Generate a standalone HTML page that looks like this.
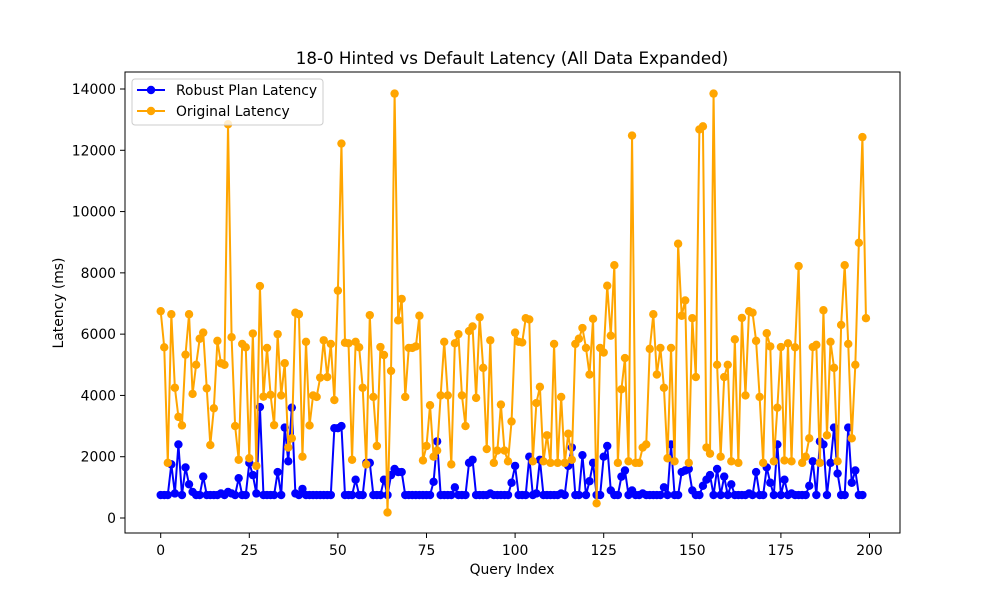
<!DOCTYPE html>
<html><head><meta charset="utf-8"><style>
body{margin:0;background:#fff}
svg{display:block;font-family:"DejaVu Sans","Liberation Sans",sans-serif}
</style></head><body>
<svg id="chart" width="1000" height="600" viewBox="0 0 1000 600" xmlns="http://www.w3.org/2000/svg">
<rect width="1000" height="600" fill="#fff"/>
<text x="512" y="64" font-size="16.7" text-anchor="middle">18-0 Hinted vs Default Latency (All Data Expanded)</text>
<g id="plot"></g>
<rect x="125" y="72" width="775" height="461" fill="none" stroke="#000" stroke-width="1"/>
<text x="512" y="574" font-size="13.9" text-anchor="middle">Query Index</text>
<text transform="translate(63,303) rotate(-90)" font-size="13.9" text-anchor="middle">Latency (ms)</text>
<g>
<rect x="132" y="79" width="191" height="46" rx="3" fill="#fff" fill-opacity="0.8" stroke="#ccc"/>
<g><line x1="137" y1="90" x2="165" y2="90" stroke="blue" stroke-width="2"/><circle cx="151" cy="90" r="4.2" fill="blue"/><text x="176" y="95" font-size="13.9">Robust Plan Latency</text></g>
<g><line x1="137" y1="111" x2="165" y2="111" stroke="orange" stroke-width="2"/><circle cx="151" cy="111" r="4.2" fill="orange"/><text x="176" y="116" font-size="13.9">Original Latency</text></g>
</g>
</svg>
<script>
const xTicks=[0,25,50,75,100,125,150,175,200];
const yTicks=[0,2000,4000,6000,8000,10000,12000,14000];
const original=[6750,5570,1800,6650,4250,3300,3020,5330,6650,4050,5000,5850,6050,4230,2380,3580,5780,5050,5000,12850,5900,3000,1900,5680,5570,1950,6020,1700,7570,3960,5550,4020,3030,6000,4000,5050,2300,2600,6700,6650,2000,5750,3020,4000,3950,4580,5800,4600,5680,3850,7420,12220,5720,5700,1900,5750,5570,4250,1750,6620,3950,2350,5580,5320,180,4800,13850,6450,7150,3950,5550,5550,5600,6600,1880,2350,3680,2000,2200,4000,5750,4000,1750,5700,6000,4000,3000,6100,6250,3920,6550,4900,2250,5800,1800,2200,3700,2200,1850,3150,6050,5750,5730,6520,6480,1850,3750,4280,1850,2700,1800,5680,1800,3950,1800,2750,1900,5680,5850,6200,5550,4680,6500,480,5550,5400,7580,5950,8250,1800,4200,5220,1850,12480,1800,1800,2300,2400,5520,6650,4680,5550,4250,1950,5550,1850,8950,6600,7100,1800,6520,4600,12680,12780,2300,2100,13850,5000,2000,4600,5000,1850,5830,1800,6530,4000,6750,6700,5780,3950,1800,6030,5600,1850,3600,5580,1880,5700,1850,5570,8220,1800,2000,2600,5580,5650,1800,6780,2700,5750,4900,1850,6300,8250,5680,2600,5000,8980,12430,6520];
const robust=[750,750,750,1750,800,2400,750,1650,1100,850,750,750,1350,750,750,750,750,800,750,850,800,750,1300,750,750,1800,1400,800,3620,750,750,750,750,1500,750,2950,1850,3600,800,750,950,750,750,750,750,750,750,750,750,2930,2930,3000,750,750,750,1250,750,750,1800,1800,750,750,750,1250,750,1400,1600,1500,1500,750,750,750,750,750,750,750,750,1180,2500,750,750,750,750,1000,750,750,750,1800,1900,750,750,750,750,800,750,750,750,750,750,1150,1700,750,750,750,2000,750,800,1900,750,750,750,750,750,800,750,1700,2300,750,750,2050,750,1200,1800,750,750,2000,2350,900,750,750,1350,1550,750,900,750,750,800,750,750,750,750,750,1000,750,2400,750,750,1500,1550,1600,900,750,750,1050,1250,1400,750,1600,750,1350,750,1100,750,750,750,750,800,750,1500,750,750,1650,1150,750,2400,750,1250,750,800,750,750,750,750,1050,1850,750,2500,2400,750,1800,2950,1450,750,750,2950,1150,1550,750,750];
const X=i=>160.7+i*(708.8/200);
const Y=v=>518-v*(429/14000);
const NS="http://www.w3.org/2000/svg";
const svg=document.getElementById('chart');
const plot=document.getElementById('plot');
function mk(t,a,p){const e=document.createElementNS(NS,t);for(const k in a)e.setAttribute(k,a[k]);(p||svg).appendChild(e);return e;}
xTicks.forEach(t=>{
  const g=mk('g',{},svg);
  
  
  mk('line',{x1:X(t),x2:X(t),y1:533,y2:538,stroke:'#000','stroke-width':1},g);
  const tx=mk('text',{x:X(t),y:555,'font-size':13.9,'text-anchor':'middle'},g);tx.textContent=t;
});
yTicks.forEach(t=>{
  const g=mk('g',{},svg);
  
  
  mk('line',{x1:120,x2:125,y1:Y(t),y2:Y(t),stroke:'#000','stroke-width':1},g);
  const tx=mk('text',{x:116,y:Y(t)+5,'font-size':13.9,'text-anchor':'end'},g);tx.textContent=t;
});
function series(data,color,name){
  const g=mk('g',{},plot);
  
  
  const pl=mk('polyline',{points:data.map((v,i)=>X(i)+','+Y(v)).join(' '),fill:'none',stroke:color,'stroke-width':2},g);
  
  
  data.forEach((v,i)=>{
    const c=mk('circle',{cx:X(i),cy:Y(v),r:4.2,fill:color},g);
    
    
  });
}
series(robust,'blue','robust-series');
series(original,'orange','original-series');
</script>
</body></html>
